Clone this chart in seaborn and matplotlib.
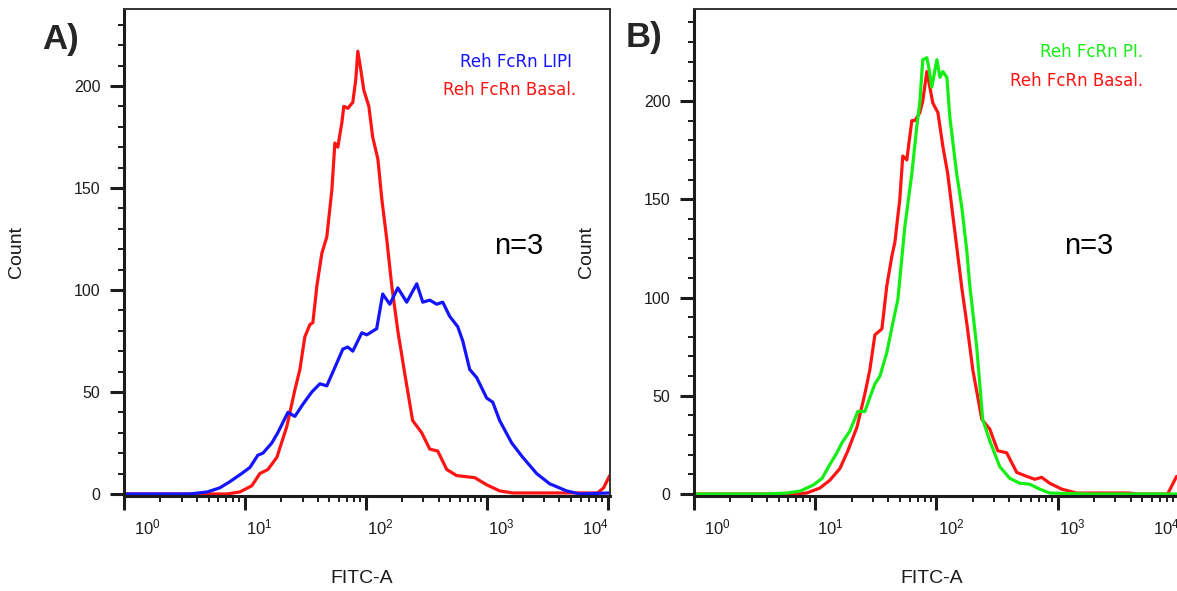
import numpy as np
import pandas as pd
import seaborn as sns
import matplotlib
matplotlib.use("Agg")
import matplotlib.pyplot as plt
from matplotlib.ticker import LogLocator, NullFormatter

# ---- data ----
# panel A, blue: Reh FcRn LIPI
fitc_lipi = [1.0, 3.5, 4.9, 6.2, 7.5, 9.4, 11.0, 12.8, 14.1, 16.7, 18.7, 22.7, 25.9,
             30.2, 35.8, 41.7, 47.6, 55.5, 64.6, 71.0, 78.1, 92.7, 102, 123, 138, 158,
             184, 218, 264, 296, 338, 386, 433, 495, 576, 634, 724, 827, 1000, 1122,
             1280, 1610, 1986, 2590, 3317, 4580, 5870, 10400]
count_lipi = [0, 0, 1, 3, 6, 10, 13, 19, 20, 25, 30, 40, 38, 44, 50, 54, 53, 62, 71,
              72, 70, 79, 78, 81, 98, 93, 101, 94, 103, 94, 95, 93, 94, 87, 82, 75, 61,
              57, 47, 45, 36, 25, 18, 10, 5, 1.5, 0, 0.5]

# panel A, red: Reh FcRn Basal.
fitc_basal_a = [1.0, 4.25, 7.1, 9.1, 11.4, 13.3, 15.5, 18.4, 22.2, 25.9, 28.5, 31.3,
                34.5, 36.5, 39.4, 43.3, 47.6, 52.4, 55.5, 58.7, 63.4, 65.8, 71.0, 78.1,
                82.6, 85.9, 90.9, 96.2, 106, 114, 126, 136, 149, 164, 184, 210, 244,
                290, 338, 394, 467, 565, 796, 1000, 1280, 1640, 8260, 9270, 10400]
count_basal_a = [0, 0, 0, 1, 4, 10, 12, 18, 33, 51, 61, 77, 83, 84, 102, 118, 126, 149,
                 172, 170, 182, 190, 189, 192, 203, 217, 208, 198, 190, 175, 164, 144,
                 125, 102, 80, 59, 36, 30, 22, 21, 12, 9, 8, 4.5, 1.5, 0.5, 0.5, 3, 9]

# panel B, green: Reh FcRn PI.
fitc_pi = [1.0, 4.0, 5.8, 7.5, 9.6, 11.4, 13.2, 15.1, 16.6, 19.3, 22.5, 25.7, 28.2,
           31.1, 34.2, 39.0, 43.7, 48.1, 54.9, 62.7, 68.9, 72.9, 77.2, 83.4, 86.6, 91.6,
           101, 107, 113, 122, 129, 147, 162, 178, 188, 215, 241, 276, 333, 403, 487,
           589, 712, 861, 1840, 9590]
count_pi = [0, 0, 0.5, 1.5, 4.5, 8, 15, 21, 26, 32, 42, 42, 49, 56, 60, 72, 87, 99, 136,
            163, 187, 199, 221, 222, 217, 207, 221, 212, 215, 212, 192, 163, 146, 124,
            107, 75, 38, 27, 14, 8, 5.5, 5, 2.5, 0.5, 0, 0]

# panel B, red: Reh FcRn Basal.
fitc_basal_b = [1.0, 6.5, 8.5, 10.9, 13.2, 16.0, 18.6, 22.1, 25.7, 28.2, 31.1, 35.5,
                39.0, 42.9, 45.4, 49.9, 52.8, 57.0, 62.7, 66.4, 72.9, 77.2, 83.4, 88.3,
                93.4, 103, 113, 124, 134, 147, 162, 178, 200, 237, 276, 321, 380, 460,
                556, 648, 739, 861, 1081, 1436, 3930, 4490, 8090, 9590]
count_basal_b = [0, 0, 0.5, 3, 7, 13, 22, 34, 51, 63, 81, 84, 106, 121, 128, 150, 172,
                 170, 190, 190, 194, 200, 215, 207, 199, 194, 177, 163, 146, 126, 105,
                 87, 63, 38, 33, 22, 21, 11, 9, 7.5, 8.5, 5.5, 2.5, 0.5, 0.5, 0, 0, 9]

y_major = [0, 50, 100, 150, 200]
x_major = [1, 10, 100, 1000, 10000]
x_labels = ["$10^{0}$", "$10^{1}$", "$10^{2}$", "$10^{3}$", "$10^{4}$"]

RED = "#ff1414"
BLUE = "#1414ff"
GREEN = "#14ee14"
INK = "#1c1c1c"

sns.set_style("white")
plt.rcParams["font.family"] = ["Liberation Sans", "DejaVu Sans"]
plt.rcParams["mathtext.fontset"] = "custom"
plt.rcParams["mathtext.rm"] = "Liberation Sans"
plt.rcParams["mathtext.it"] = "Liberation Sans"

fig = plt.figure(figsize=(11.77, 5.91), dpi=100)
ax_a = fig.add_axes([124 / 1177, 95 / 591, 486 / 1177, 487 / 591])
ax_b = fig.add_axes([694 / 1177, 95 / 591, 486 / 1177, 487 / 591])


def draw(ax, fitc, counts, color):
    df = pd.DataFrame({"FITC-A": fitc, "Count": counts})
    sns.lineplot(data=df, x="FITC-A", y="Count", color=color, lw=2.3,
                 estimator=None, ax=ax)


def style(ax, xmax, ymax):
    ax.set_xscale("log")
    ax.set_xlim(1, xmax)
    ax.set_ylim(-1, ymax)
    ax.set_yticks(y_major)
    ax.set_yticks(np.arange(0, ymax, 10), minor=True)
    ax.set_xticks(x_major)
    ax.xaxis.set_minor_locator(LogLocator(base=10, subs=np.arange(2, 10)))
    ax.xaxis.set_minor_formatter(NullFormatter())
    ax.tick_params(axis="x", which="both", bottom=True, labelbottom=False)
    ax.tick_params(axis="y", which="both", left=True)
    ax.tick_params(axis="both", which="major", direction="out", length=10, width=2.2,
                   color=INK, labelsize=11.5, labelcolor=INK, pad=7)
    ax.tick_params(axis="both", which="minor", direction="out", length=4.5, width=1.4,
                   color=INK)
    for side in ["left", "bottom"]:
        ax.spines[side].set_linewidth(2.2)
        ax.spines[side].set_color(INK)
    for side in ["top", "right"]:
        ax.spines[side].set_linewidth(1.4)
        ax.spines[side].set_color("#333333")
    # decade labels sit to the right of their tick, the last one to the left
    for i, (xv, lab) in enumerate(zip(x_major, x_labels)):
        dx = 7 if i == 0 else 1
        ha = "left"
        if i == len(x_major) - 1:
            dx, ha = 1, "right"
        ax.annotate(lab, xy=(xv, 0), xycoords=("data", "axes fraction"),
                    xytext=(dx, -23), textcoords="offset points",
                    ha=ha, va="center", fontsize=12, color=INK)
    ax.set_xlabel("FITC-A", fontsize=14, color=INK)
    ax.set_ylabel("Count", fontsize=14, color=INK)
    ax.xaxis.set_label_coords(0.49, -0.152)
    ax.yaxis.set_label_coords(-0.203, 0.5)
    ax.text(0.813, 0.513, "n=3", transform=ax.transAxes, fontsize=21,
            ha="center", va="center", color="black")


draw(ax_a, fitc_basal_a, count_basal_a, RED)
draw(ax_a, fitc_lipi, count_lipi, BLUE)
style(ax_a, 10 ** 4.02, 237.7)

draw(ax_b, fitc_basal_b, count_basal_b, RED)
draw(ax_b, fitc_pi, count_pi, GREEN)
style(ax_b, 10 ** 4.01, 246.8)

# in-plot series labels
ax_a.text(0.922, 0.891, "Reh FcRn LIPI", transform=ax_a.transAxes, ha="right",
          va="center", fontsize=12, color=BLUE, family="DejaVu Sans")
ax_a.text(0.93, 0.834, "Reh FcRn Basal.", transform=ax_a.transAxes, ha="right",
          va="center", fontsize=12, color=RED, family="DejaVu Sans")
ax_b.text(0.924, 0.912, "Reh FcRn PI.", transform=ax_b.transAxes, ha="right",
          va="center", fontsize=12, color=GREEN, family="DejaVu Sans")
ax_b.text(0.924, 0.852, "Reh FcRn Basal.", transform=ax_b.transAxes, ha="right",
          va="center", fontsize=12, color=RED, family="DejaVu Sans")

fig.text(61 / 1177, 1 - 39 / 591, "A)", fontsize=25, fontweight="bold",
         ha="center", va="center")
fig.text(644 / 1177, 1 - 38 / 591, "B)", fontsize=25, fontweight="bold",
         ha="center", va="center")

fig.savefig("out.png", dpi=100, facecolor="white")
